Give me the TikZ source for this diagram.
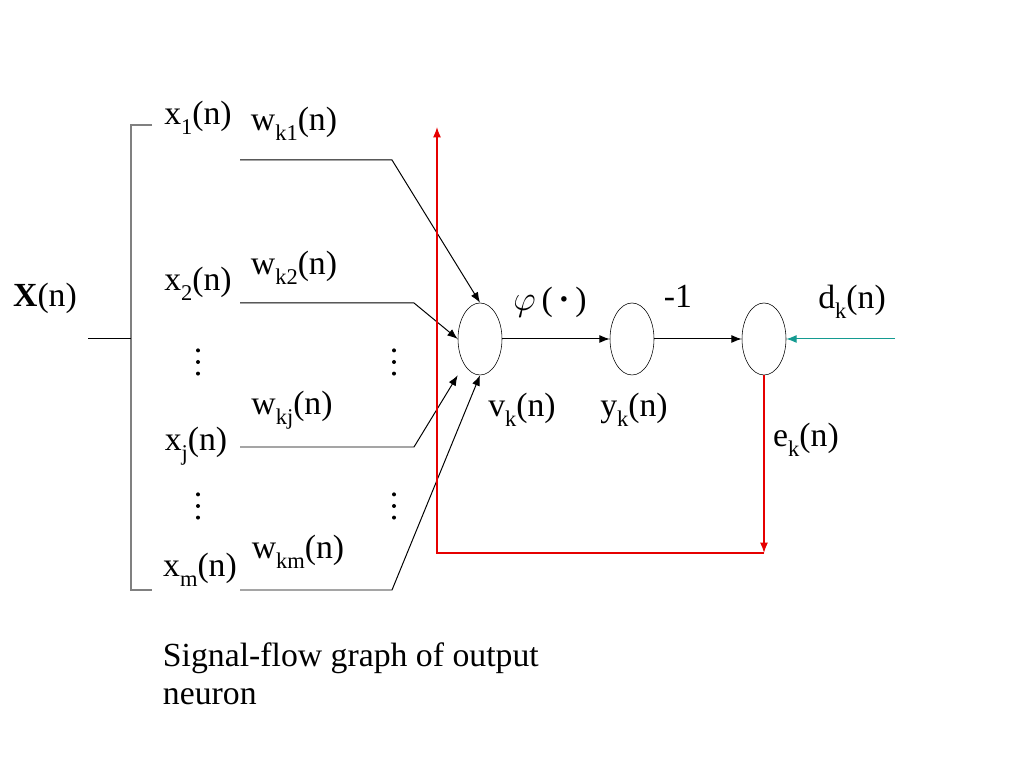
\documentclass[tikz,border=0pt]{standalone}
\usepackage{fontspec}
\setmainfont{Liberation Serif}
\usetikzlibrary{shapes.geometric,arrows.meta}
\definecolor{fbred}{RGB}{230,0,0}
\definecolor{dteal}{RGB}{20,155,145}
\newcommand\lowsub[1]{\raisebox{-0.28em}{\fontsize{16}{16}\selectfont #1}}
\begin{document}
\begin{tikzpicture}[font=\rmfamily\fontsize{24}{27}\selectfont,
		neuron/.style={draw, ellipse, minimum width=1.1cm, minimum height=1.8cm, inner sep=0pt},
		link/.style={-{Latex[length=2.6mm,width=2mm]}, line width=0.7pt}]
		\useasboundingbox (0,0) rectangle (25.6,19.2);

		% inputs
		\node at (1.125,11.75) (X) {\textbf{X}(n)};
		\node at (4.95,16.25) (x1) {x\lowsub{1}(n)};
		\node at (4.95,12.1) (x2) {x\lowsub{2}(n)};
		\node at (4.9,8.05) (xj) {x\lowsub{j}(n)};
		\node at (5.0,4.95) (xm) {x\lowsub{m}(n)};

		\node at (7.35,16.1) (wk1) {w\lowsub{k1}(n)};
		\node at (7.35,12.5) (wk2) {w\lowsub{k2}(n)};
		\node at (7.3,8.95) (wkj) {w\lowsub{kj}(n)};
		\node at (7.45,5.4) (wkm) {w\lowsub{km}(n)};

		\draw [gray, line width=1pt] (3.8,16.075) -- (3.275,16.075)
			-- (3.275,4.45) -- (3.8,4.45);
		\draw [line width=0.7pt] (2.2,10.725) -- (3.275,10.725);

		\foreach \x/\y in {4.95/10.15, 9.85/10.15, 4.95/6.55, 9.85/6.55}
			\foreach \d in {-0.29,0,0.29}
				\fill (\x,\y+\d) circle (0.05);

		% neurons
		\node [neuron] at (12.0,10.725) (sum) {};
		\node [neuron] at (15.8,10.725) (out) {};
		\node [neuron] at (19.1,10.725) (err) {};

		\draw [link] (6.0,15.2) -- (9.8,15.2) -- (sum.north);
		\draw [link] (6.0,11.625) -- (10.35,11.625) -- (sum.west);
		\draw [link] (6.0,8.025) -- (10.35,8.025) -- (sum.west |- sum.south);
		\draw [link] (6.0,4.45) -- (9.8,4.45) -- (sum.south);

		\draw [link] (sum) -- (out);
		\draw [link] (out) -- (err);
		\coordinate (dIn) at (22.375,10.725);
		\draw [link, dteal] (dIn) -- (err);

		\node at (13.75,11.65) (phi) {$\varphi$\,(\,\textbf{·}\,)};
		\node at (16.95,11.8) (m1) {-1};
		\node at (21.3,11.65) (dk) {d\lowsub{k}(n)};
		\node at (13.05,8.95) (vk) {v\lowsub{k}(n)};
		\node at (15.85,8.95) (yk) {y\lowsub{k}(n)};
		\node at (20.15,8.2) (ek) {e\lowsub{k}(n)};

		% error feedback
		\coordinate (eDown) at (19.1,5.375);
		\coordinate (eLeft) at (10.925,5.375);
		\coordinate (eUp) at (10.925,16.025);
		\draw [link, fbred, line width=1pt] (err.south) -- (eDown);
		\draw [link, fbred, line width=1pt] (eDown) -- (eLeft) -- (eUp);

		\node [anchor=west, align=left] at (3.95,2.35) (cap)
			{Signal-flow graph of output\\neuron};
	\end{tikzpicture}
\end{document}
